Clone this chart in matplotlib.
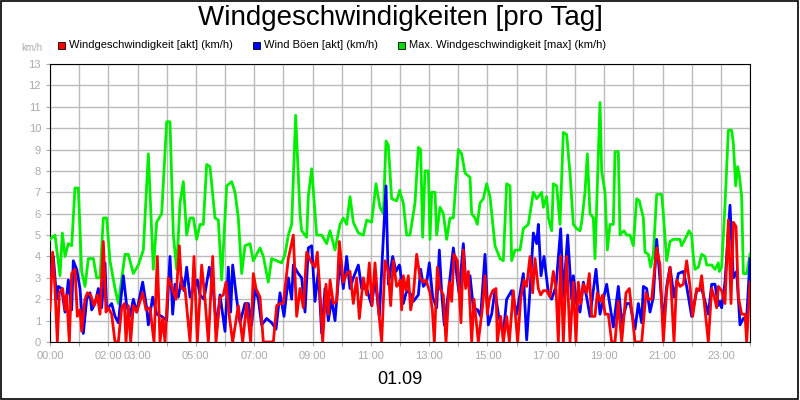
import matplotlib.pyplot as plt
import numpy as np

plt.rcParams["font.family"] = "Liberation Sans"

# values; times are chart positions in 1/87.5 hour steps
# (first half: offset 150, second half: from 12:00)
green_x1 = [150, 165, 180, 187, 195, 205, 215, 225, 235, 245, 255, 265, 280, 290, 300, 310, 320, 330, 345, 355,
            375, 385, 400, 415, 430, 445, 460, 470, 485, 500, 510, 520, 530, 540, 550, 560, 570, 580, 590, 600,
            610, 620, 630, 645, 655, 665, 680, 695, 705, 715, 725, 735, 750, 760, 780, 790, 805, 815, 830, 845,
            855, 865, 875, 887, 900, 905, 920, 925, 935, 950, 965, 980, 990, 1005, 1020, 1030, 1040, 1050, 1060,
            1075, 1090, 1100, 1115, 1128, 1140, 1150, 1158, 1165, 1175, 1190, 1200]
green_y1 = [4.8, 5.0, 3.1, 5.1, 4.0, 4.6, 4.5, 7.2, 7.2, 3.3, 2.6, 3.9, 3.9, 3.0, 3.0, 5.8, 5.8, 3.8, 2.5, 1.8,
            4.1, 4.1, 3.2, 3.6, 4.3, 8.8, 3.4, 5.6, 6.0, 10.3, 10.3, 5.0, 3.4, 6.5, 7.5, 5.0, 5.8, 5.8, 4.8, 5.5,
            5.5, 8.3, 8.2, 5.8, 5.7, 2.9, 7.3, 7.5, 7.0, 5.8, 3.2, 4.5, 4.6, 3.8, 4.4, 4.0, 2.8, 3.9, 3.8, 3.7,
            4.1, 5.0, 5.5, 10.6, 6.0, 5.2, 4.9, 6.8, 8.1, 5.0, 5.0, 4.6, 5.2, 4.3, 5.5, 5.8, 5.5, 6.8, 5.6,
            5.1, 5.0, 5.7, 5.6, 7.4, 6.3, 6.0, 9.4, 9.2, 6.7, 6.6, 7.1]
green_x2 = [0, 10, 20, 30, 45, 55, 62, 68, 75, 85, 90, 95, 105, 110, 120, 130, 140, 150, 160, 175, 185, 195, 210,
            215, 225, 232, 240, 250, 260, 270, 285, 300, 310, 320, 330, 335, 345, 360, 370, 385, 400, 410, 425,
            430, 440, 445, 455, 460, 470, 480, 490, 500, 510, 520, 530, 540, 545, 555, 562, 570, 580, 585, 592,
            600, 605, 615, 622, 630, 640, 645, 655, 660, 665, 672, 680, 690, 700, 710, 718, 730, 735, 745, 752,
            760, 770, 785, 790, 800, 810, 820, 840, 845, 855, 867, 875, 880, 885, 895, 905, 915, 920, 935, 945,
            955, 958, 965, 975, 985, 995, 1000, 1007, 1013, 1018, 1025, 1030, 1040, 1050]
green_y2 = [7.0, 6.5, 5.0, 5.0, 6.5, 9.1, 9.0, 4.9, 8.0, 8.0, 4.8, 7.0, 7.0, 5.0, 6.3, 6.0, 4.8, 5.8, 5.8, 9.0,
            8.8, 7.9, 7.7, 6.0, 5.8, 5.5, 6.5, 6.7, 7.4, 6.8, 4.5, 3.9, 3.8, 7.4, 7.3, 3.8, 4.3, 4.3, 5.3, 5.5,
            7.0, 6.7, 7.0, 6.3, 6.8, 5.8, 5.2, 7.4, 7.3, 5.5, 9.8, 9.7, 7.9, 5.5, 5.3, 5.2, 5.6, 7.0, 8.8, 6.0,
            5.8, 3.9, 7.3, 11.2, 8.0, 7.0, 4.3, 5.5, 5.5, 8.9, 8.9, 5.0, 5.1, 5.2, 5.0, 5.0, 4.5, 6.7, 6.6, 5.8,
            4.2, 4.1, 3.5, 4.1, 6.9, 6.9, 6.0, 3.8, 4.7, 4.8, 4.8, 4.5, 4.8, 5.2, 5.0, 4.0, 3.4, 3.5, 4.1, 4.0,
            3.6, 3.6, 3.4, 3.7, 3.3, 3.5, 6.4, 9.9, 9.9, 9.3, 7.3, 8.2, 7.8, 6.8, 3.2, 3.2, 4.1]

blue_x1 = [150, 160, 170, 175, 185, 195, 205, 215, 220, 230, 240, 250, 260, 270, 275, 285, 295, 305, 315, 320,
           335, 345, 355, 370, 380, 390, 400, 410, 428, 440, 445, 458, 470, 485, 500, 510, 518, 525, 535, 545,
           552, 560, 570, 582, 592, 600, 612, 628, 640, 650, 660, 675, 685, 692, 698, 710, 720, 735, 745, 755,
           765, 775, 785, 800, 815, 828, 840, 852, 865, 875, 880, 895, 905, 915, 925, 935, 945, 955, 965, 975,
           985, 995, 1005, 1020, 1030, 1040, 1050, 1060, 1075, 1085, 1100, 1115, 1125, 1138, 1158, 1165, 1178,
           1188, 1198]
blue_y1 = [3.2, 4.0, 2.0, 2.6, 2.5, 1.4, 2.9, 1.5, 3.8, 3.4, 2.5, 0.4, 2.0, 2.3, 1.5, 1.8, 2.5, 1.6, 3.7, 1.5,
           1.8, 1.2, 0.9, 3.1, 1.7, 1.2, 2.0, 1.4, 2.8, 1.6, 0.8, 2.1, 1.3, 1.2, 1.0, 4.0, 1.3, 2.7, 2.1, 3.0,
           2.4, 3.5, 2.1, 2.5, 2.9, 2.2, 2.0, 3.5, 2.4, 0.6, 2.2, 0.5, 3.5, 1.4, 3.6, 2.0, 0.9, 1.8, 1.8, 0.8,
           2.5, 2.0, 0.8, 1.1, 0.9, 0.6, 2.3, 1.2, 3.0, 2.0, 3.6, 3.2, 3.0, 1.4, 4.4, 4.5, 1.9, 3.3, 0.4, 2.5,
           1.0, 2.0, 1.0, 3.8, 2.5, 4.0, 2.5, 3.0, 3.6, 2.5, 2.5, 1.7, 3.0, 1.2, 7.3, 2.7, 4.0, 3.3, 3.6]
blue_x2 = [0, 10, 20, 30, 40, 55, 62, 70, 80, 88, 98, 110, 118, 125, 133, 145, 160, 177, 190, 198, 210, 220, 233,
           242, 255, 265, 275, 285, 295, 310, 320, 335, 350, 370, 380, 390, 400, 410, 415, 423, 432, 445, 455,
           468, 482, 490, 503, 515, 520, 530, 540, 550, 560, 570, 588, 600, 620, 640, 655, 665, 680, 690, 705,
           715, 725, 730, 740, 750, 760, 770, 780, 790, 800, 810, 822, 835, 850, 860, 875, 890, 905, 915, 925,
           935, 945, 955, 960, 965, 975, 990, 1000, 1010, 1020, 1030, 1040, 1050]
blue_y2 = [3.5, 1.8, 2.4, 2.3, 1.9, 2.2, 3.4, 2.6, 2.8, 3.7, 2.1, 1.6, 4.3, 2.3, 0.8, 2.3, 4.4, 2.3, 4.6, 2.6,
           3.1, 1.6, 1.5, 1.2, 4.1, 0.8, 1.3, 2.4, 1.3, 0.4, 2.0, 2.4, 1.3, 3.2, 0.1, 2.4, 5.1, 4.6, 5.5, 3.1,
           4.0, 2.3, 2.0, 2.6, 5.3, 2.1, 5.0, 2.0, 3.1, 1.8, 1.4, 2.8, 2.1, 1.2, 3.4, 1.3, 2.7, 0.7, 2.6, 0.9,
           1.8, 1.8, 0.6, 1.8, 0.9, 2.6, 2.5, 1.4, 2.1, 4.8, 2.9, 0.9, 2.6, 3.5, 2.1, 3.2, 3.3, 2.6, 1.2, 2.4,
           2.5, 1.9, 1.3, 2.7, 2.7, 1.7, 1.9, 1.6, 2.8, 6.4, 3.0, 3.3, 0.8, 1.1, 1.1, 3.9]

red_x1 = [150, 158, 165, 172, 178, 188, 195, 200, 208, 215, 225, 232, 240, 245, 255, 262, 272, 282, 292, 300,
          310, 318, 325, 335, 345, 355, 365, 373, 378, 385, 392, 400, 410, 428, 438, 450, 462, 472, 480, 488,
          495, 505, 515, 528, 538, 545, 555, 570, 582, 592, 605, 615, 625, 638, 648, 660, 670, 678, 688, 698,
          715, 728, 740, 752, 760, 768, 780, 790, 820, 830, 840, 850, 865, 880, 890, 900, 910, 920, 935, 945,
          952, 962, 968, 978, 985, 990, 1000, 1010, 1018, 1030, 1040, 1050, 1060, 1070, 1078, 1090, 1100, 1108,
          1116, 1125, 1135, 1145, 1155, 1165, 1172, 1180, 1190, 1200]
red_y1 = [1.5, 4.2, 2.5, 0, 2.3, 2.5, 1.5, 2.2, 0, 3.2, 3.4, 1.2, 1.5, 0.5, 2.0, 2.3, 2.2, 1.7, 2.2, 1.3,
          4.7, 1.4, 1.6, 1.3, 0, 0, 1.6, 1.8, 0, 1.7, 0, 1.7, 1.4, 2.3, 1.5, 1.6, 0, 4.0, 0, 1.1,
          0, 3.0, 2.6, 2.0, 4.5, 2.5, 2.5, 0, 4.0, 0, 3.6, 2.0, 0, 4.0, 0, 2.1, 2.2, 2.8, 1.2, 0,
          1.7, 0, 1.8, 0, 3.2, 2.5, 2.1, 0, 0, 1.7, 1.8, 1.8, 3.9, 5.0, 1.2, 2.5, 1.6, 4.2, 3.7, 3.5,
          4.2, 1.8, 0, 2.7, 1.3, 2.9, 1.8, 1.9, 4.7, 2.8, 3.2, 3.3, 1.8, 3.0, 1.1, 3.0, 2.2, 3.7,
          1.7, 3.7, 1.6, 0, 3.8, 3.3, 1.7, 3.8, 2.6, 2.8]
red_x2 = [0, 5, 10, 18, 25, 32, 40, 50, 60, 70, 78, 90, 97, 103, 112, 120, 130, 138, 148, 155, 162, 172, 183,
          190, 197, 205, 215, 222, 235, 248, 255, 262, 268, 278, 288, 292, 302, 310, 320, 328, 340, 353, 362,
          372, 380, 390, 398, 405, 415, 422, 430, 440, 450, 460, 468, 475, 482, 490, 500, 510, 520, 528, 535,
          542, 550, 560, 568, 575, 585, 592, 600, 608, 615, 625, 635, 645, 655, 665, 678, 688, 695, 705, 725,
          738, 745, 755, 770, 780, 790, 800, 810, 822, 830, 840, 850, 860, 870, 878, 890, 898, 905, 915, 925,
          935, 943, 950, 955, 965, 975, 985, 993, 1000, 1008, 1015, 1025, 1035, 1040, 1050]
red_y2 = [2.9, 1.5, 3.1, 2.4, 3.1, 1.5, 2.2, 4.1, 3.0, 2.8, 2.9, 2.3, 1.5, 0, 3.5, 2.5, 2.2, 0, 2.8, 1.9,
          4.1, 3.8, 0.9, 4.3, 2.5, 3.3, 0, 2.0, 0, 1.7, 3.1, 1.3, 2.0, 2.4, 2.5, 0, 1.2, 0, 1.2, 0,
          2.4, 0, 2.0, 2.9, 2.6, 4.0, 2.3, 3.9, 2.5, 2.2, 2.4, 2.4, 2.1, 3.3, 2.5, 0, 4.0, 0, 4.0, 0,
          2.8, 0, 2.8, 1.8, 2.7, 2.3, 3.2, 1.2, 1.2, 2.3, 1.9, 2.2, 1.3, 1.3, 0, 0, 1.9, 0, 2.3, 2.5,
          1.5, 0, 0, 2.3, 2.0, 2.0, 4.4, 3.6, 0, 2.4, 3.5, 0, 2.9, 2.6, 2.7, 3.8, 2.6, 1.2, 2.5, 2.4,
          3.1, 1.5, 0, 2.5, 2.1, 1.6, 2.6, 2.4, 1.8, 5.7, 1.8, 5.6, 5.4, 2.1, 1.3, 1.3, 0, 2.8]

tick_hours = list(range(25))
tick_labels = ["00:00", "", "02:00", "03:00", "", "05:00", "", "07:00", "", "09:00", "", "11:00", "",
               "13:00", "", "15:00", "", "17:00", "", "19:00", "", "21:00", "", "23:00", ""]


def to_hours(x1, x2):
    return np.concatenate([(np.array(x1) - 150) / 87.5, 12 + np.array(x2) / 87.5])


fig = plt.figure(figsize=(8, 4), dpi=100)
fig.patches.append(plt.Rectangle((0.001, 0.002), 0.997, 0.995, transform=fig.transFigure,
                                 fill=False, edgecolor="black", linewidth=1.2))
ax = fig.add_axes([0.0625, 0.145, 0.875, 0.695])

ax.plot(to_hours(green_x1, green_x2), green_y1 + green_y2, color="#00ee00", linewidth=2, zorder=3)
ax.plot(to_hours(blue_x1, blue_x2), blue_y1 + blue_y2, color="#0000ff", linewidth=2, zorder=4)
ax.plot(to_hours(red_x1, red_x2), red_y1 + red_y2, color="#ff0000", linewidth=2, zorder=5)

ax.set_xlim(0, 24)
ax.set_ylim(0, 13)
ax.set_xticks(tick_hours)
ax.set_xticklabels(tick_labels)
ax.set_yticks(range(14))
ax.grid(True, color="#bbbbbb", linewidth=1)
ax.set_axisbelow(True)
ax.tick_params(colors="#aaaaaa", labelsize=8, length=3, labelcolor="#aaaaaa")
for s in ax.spines.values():
    s.set_color("black")

fig.text(0.5, 0.955, "Windgeschwindigkeiten [pro Tag]", ha="center", va="center", fontsize=20)
fig.text(0.5, 0.05, "01.09", ha="center", va="center", fontsize=13)
fig.text(0.04, 0.88, "km/h", ha="center", va="center", fontsize=7, color="#aaaaaa")

legend_items = [(0.072, "#ff0000", "Windgeschwindigkeit [akt] (km/h)"),
                (0.316, "#0000ff", "Wind Böen [akt] (km/h)"),
                (0.497, "#00dd00", "Max. Windgeschwindigkeit [max] (km/h)")]
for lx, col, txt in legend_items:
    fig.patches.append(plt.Rectangle((lx, 0.877), 0.009, 0.018, transform=fig.transFigure,
                                     facecolor=col, edgecolor="black", linewidth=0.6))
    fig.text(lx + 0.014, 0.887, txt, ha="left", va="center", fontsize=8)

fig.savefig("out.png", dpi=100)
